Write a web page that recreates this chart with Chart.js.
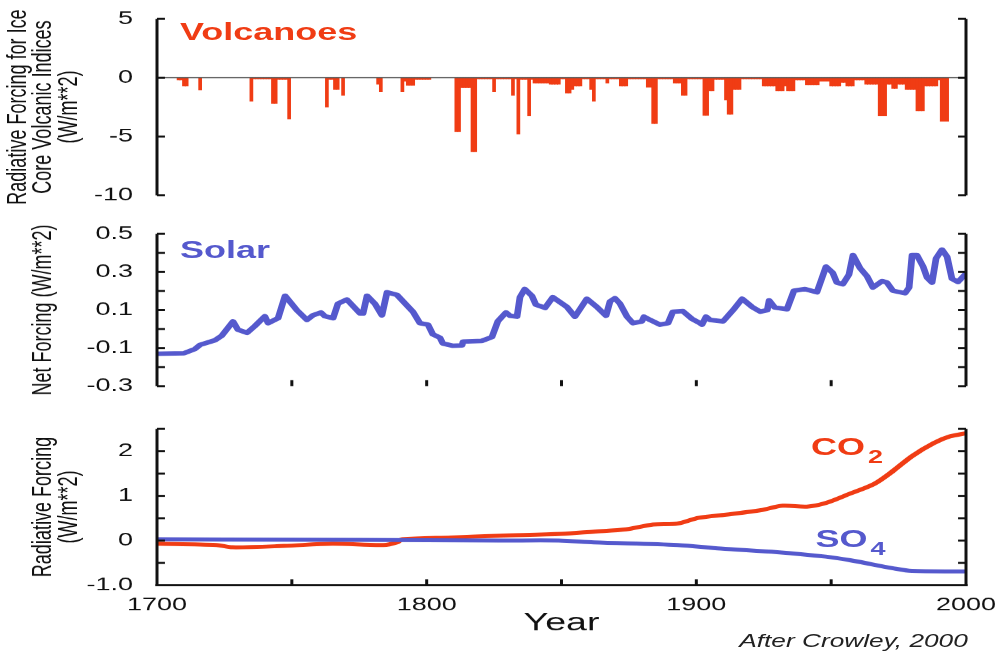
<!DOCTYPE html>
<html>
<head>
<meta charset="utf-8">
<script src="https://cdn.jsdelivr.net/npm/chart.js@4.4.1/dist/chart.umd.min.js"></script>
<style>
  html, body { margin: 0; padding: 0; background: #fff; width: 1000px; height: 653px; overflow: hidden; }
  #stage { position: absolute; left: 0; top: 0; width: 667px; height: 653px; transform: scaleX(1.49925); transform-origin: 0 0; }
  #stage canvas { position: absolute; left: 0; }
  .lbl { position: absolute; font-family: 'Liberation Sans', Arial, Helvetica, sans-serif; font-weight: bold; font-size: 24px; line-height: 1; white-space: nowrap; }
  .red { color: #f03c14; }
  .blue { color: #5559cd; }
  .sub { font-size: 18px; position: relative; top: 8px; margin-left: 2px; }
  .note { position: absolute; left: 0; width: 645.5px; text-align: right; top: 633px; font-family: 'Liberation Sans', Arial, sans-serif; font-style: italic; font-size: 17.5px; line-height: 1; color: #222; white-space: nowrap; }
</style>
</head>
<body>
<div id="stage">
  <canvas id="c1" width="667" height="215" style="top:0px"></canvas>
  <canvas id="c2" width="667" height="190" style="top:215px"></canvas>
  <canvas id="c3" width="667" height="243" style="top:410px"></canvas>
  <div class="lbl red" style="left:120px;top:19.7px">Volcanoes</div>
  <div class="lbl blue" style="left:120px;top:237.7px">Solar</div>
  <div class="lbl red" style="left:541px;top:434.7px">CO<span class="sub">2</span></div>
  <div class="lbl blue" style="left:544px;top:526.7px">SO<span class="sub">4</span></div>
  <div class="note">After Crowley, 2000</div>
</div>
<script>
// ---------------- DATA ----------------
// Volcanic forcing (W/m**2): year ranges with constant forcing
const volcFrom    = [1708,1710,1716,1735,1736,1743,1745,1749,1763,1764,1766,1769,1782,1783,1791,1792,1793,1796,1811,1813,1817,1819,1825,1826,1832,1833,1834,1835,1838,1839,1840,1846,1850,1852,1854,1855,1858,1861,1862,1863,1867,1868,1872,1875,1882,1884,1886,1892,1895,1897,1903,1905,1907,1911,1912,1914,1917,1925,1930,1933,1934,1937,1941,1946,1950,1954,1956,1959,1963,1968,1971,1973,1975,1978,1982,1985,1990,1991];
const volcTo      = [1709,1711,1716,1735,1742,1744,1748,1749,1763,1765,1767,1769,1782,1783,1791,1792,1795,1801,1812,1816,1818,1824,1825,1831,1832,1833,1834,1837,1838,1839,1845,1849,1851,1853,1854,1857,1860,1861,1862,1866,1867,1871,1874,1881,1883,1885,1891,1894,1896,1902,1904,1906,1910,1911,1913,1916,1924,1929,1932,1933,1936,1940,1945,1949,1953,1955,1958,1962,1967,1970,1972,1974,1977,1981,1984,1989,1990,1993];
const volcForcing = [-0.2,-0.7,-1.05,-2.0,-0.1,-2.2,-0.15,-3.5,-2.5,-0.15,-1.0,-1.5,-0.55,-1.2,-1.2,-0.3,-0.65,-0.15,-4.6,-0.85,-6.3,-0.1,-1.2,-0.1,-1.5,-0.1,-4.8,-0.15,-3.25,-0.15,-0.45,-0.55,-0.1,-1.3,-1.0,-0.7,-0.1,-1.0,-2.0,-0.1,-0.45,-0.1,-0.7,-0.1,-0.8,-3.9,-0.1,-0.45,-1.5,-0.1,-3.2,-1.1,-0.15,-1.9,-3.1,-1.0,-0.1,-0.7,-1.1,-0.7,-1.1,-0.2,-0.6,-0.3,-0.7,-0.4,-0.7,-0.2,-0.55,-3.25,-0.55,-0.9,-0.55,-1.0,-2.8,-0.7,-0.2,-3.7];

// Solar net forcing (W/m**2)
const solarYears  = [1700,1710,1714,1716,1721.5,1724,1728.2,1730,1733.4,1736.3,1740,1741.2,1744.9,1747.5,1751.9,1755.6,1757.8,1760.8,1762.3,1765.3,1767.1,1770.4,1775.3,1776.4,1777.9,1780.8,1783.4,1785.3,1789,1794.9,1797.5,1800.5,1802.3,1804.9,1806,1809.8,1813.1,1813.5,1820.5,1824.2,1826.4,1829.4,1830.9,1833.5,1834.6,1836.4,1839,1840.5,1843.9,1846.8,1852,1855,1859.4,1863.1,1866.5,1868,1869.8,1871.7,1874.3,1876.5,1879.8,1880.6,1882.8,1886.5,1889.5,1891.3,1895,1898.4,1901.3,1902.1,1903.6,1905.1,1909.9,1913.6,1917,1920.7,1923.7,1926.3,1927,1929.1,1933.6,1936.2,1940.3,1944.7,1946.2,1948.1,1950.6,1952.1,1954.3,1956.6,1958.1,1960.7,1963.3,1965.5,1968.9,1970.7,1972.9,1977.4,1978.9,1980,1981.8,1984.1,1985.6,1987.4,1988.9,1991.1,1993,1994.8,1997,2000];
const solarValues = [-0.13,-0.127,-0.105,-0.083,-0.059,-0.035,0.04,-0.003,-0.02,0.016,0.067,0.031,0.057,0.175,0.099,0.048,0.072,0.087,0.067,0.057,0.133,0.155,0.082,0.082,0.175,0.133,0.072,0.193,0.179,0.091,0.031,0.023,-0.028,-0.045,-0.076,-0.088,-0.086,-0.066,-0.062,-0.042,0.041,0.087,0.070,0.065,0.167,0.21,0.175,0.128,0.111,0.167,0.116,0.065,0.159,0.116,0.070,0.145,0.162,0.133,0.065,0.031,0.040,0.065,0.048,0.023,0.031,0.091,0.094,0.053,0.031,0.023,0.065,0.048,0.040,0.099,0.159,0.116,0.091,0.099,0.150,0.113,0.104,0.201,0.210,0.193,0.252,0.328,0.295,0.244,0.235,0.286,0.388,0.32,0.277,0.218,0.252,0.244,0.201,0.188,0.218,0.388,0.388,0.328,0.269,0.244,0.371,0.417,0.379,0.264,0.247,0.291];

// Greenhouse gas / aerosol radiative forcing (W/m**2)
const co2Years  = [1700,1722,1728,1747,1765,1784,1789,1791,1809,1827,1850,1862,1874,1884,1893,1901,1911,1924,1932,1941,1948,1957,1966,1973,1980,1988,1994,2000];
const co2Values = [-0.07,-0.10,-0.15,-0.12,-0.07,-0.10,-0.04,0.03,0.07,0.11,0.15,0.20,0.25,0.36,0.38,0.51,0.58,0.68,0.78,0.76,0.84,1.05,1.27,1.56,1.89,2.18,2.33,2.40];
const so4Years  = [1700,1750,1800,1827,1849,1862,1893,1909,1930,1948,1957,1973,1980,2000];
const so4Values = [0.03,0.02,0.01,0.0,0.0,-0.04,-0.10,-0.18,-0.26,-0.36,-0.44,-0.62,-0.68,-0.69];

// Tick labels
const yearTicks  = [1700,1800,1900,2000];
const volcTicks  = [5,0,-5,-10];
const solarTicks = [0.5,0.3,0.1,-0.1,-0.3];
const ghgTicks   = [2,1,0,-1];

// ---------------- STYLE / HELPERS ----------------
const FONT = "'Liberation Sans', Arial, Helvetica, sans-serif";
const RED = '#f03c14', BLUE = '#5559cd', INK = '#111';
const YAXIS_W = 104.67, PAD_R = 23;

const volcData = [];
for (let yr = 1700; yr <= 2000; yr++) volcData.push({x: yr, y: null});
volcFrom.forEach((a, i) => { for (let yr = a; yr <= volcTo[i]; yr++) volcData[yr - 1700].y = volcForcing[i]; });
const pts = (xs, ys) => xs.map((x, i) => ({x, y: ys[i]}));

const framePlugin = {
  id: 'frame',
  afterDatasetsDraw(chart, args, o) {
    const {ctx, chartArea: a, scales: {x, y}} = chart;
    const line = (x1, y1, x2, y2) => { ctx.beginPath(); ctx.moveTo(x1, y1); ctx.lineTo(x2, y2); ctx.stroke(); };
    ctx.save();
    ctx.lineCap = 'butt';
    if (o.zeroLine) { ctx.strokeStyle = '#555'; ctx.lineWidth = 1.3; const y0 = y.getPixelForValue(0); line(a.left, y0, a.right, y0); }
    ctx.strokeStyle = INK; ctx.lineWidth = 2;
    line(a.left, a.top, a.left, a.bottom + (o.bottomLine ? 1 : 0));
    line(a.right, a.top, a.right, a.bottom + (o.bottomLine ? 1 : 0));
    if (o.bottomLine) line(a.left - 1, a.bottom, a.right + 1, a.bottom);
    const n = Math.round((y.max - y.min) / o.yStep);
    for (let i = 0; i <= n; i++) {
      const py = y.getPixelForValue(y.min + i * o.yStep);
      line(a.left, py, a.left + 5.3, py);
      line(a.right - 5.3, py, a.right, py);
    }
    if (o.xStep) {
      const m = Math.round((x.max - x.min) / o.xStep);
      for (let i = 1; i < m; i++) {
        const px = x.getPixelForValue(x.min + i * o.xStep);
        line(px, a.bottom, px, a.bottom - 6);
      }
    }
    ctx.restore();
  }
};

function yScale(min, max, ticks, fmt, title, titlePad) {
  return {
    min, max,
    afterBuildTicks: s => { s.ticks = ticks.map(v => ({value: v})); },
    afterFit: s => { s.width = YAXIS_W; },
    grid: {display: false}, border: {display: false},
    ticks: {color: INK, font: {family: FONT, size: 18}, padding: 8, callback: fmt},
    title: {display: true, text: title, color: INK, font: {family: FONT, size: 18, lineHeight: 0.96}, padding: {top: titlePad, bottom: 0}}
  };
}
const hiddenX = {type: 'linear', min: 1700, max: 2000, offset: false, display: false};
function base(padTop, padBottom, frame) {
  return {
    responsive: false, animation: false, devicePixelRatio: 1.5, events: [],
    layout: {padding: {left: 0, right: PAD_R, top: padTop, bottom: padBottom}},
    plugins: {legend: {display: false}, tooltip: {enabled: false}, frame}
  };
}

// Panel 1: volcanoes
new Chart(document.getElementById('c1'), {
  type: 'bar',
  data: {datasets: [{data: volcData, backgroundColor: RED, borderWidth: 0, barPercentage: 1, categoryPercentage: 1}]},
  options: Object.assign(base(15, 20, {zeroLine: true, yStep: 5}), {
    scales: {
      x: hiddenX,
      y: yScale(-10, 5, volcTicks, v => String(v), ['Radiative Forcing for Ice', 'Core Volcanic Indices', '(W/m**2)'], 3.4)
    }
  }),
  plugins: [framePlugin]
});

// Panel 2: solar
new Chart(document.getElementById('c2'), {
  type: 'line',
  data: {datasets: [{data: pts(solarYears, solarValues), borderColor: BLUE, borderWidth: 4.5, pointRadius: 0, tension: 0, borderJoinStyle: 'round', borderCapStyle: 'round'}]},
  options: Object.assign(base(18, 15, {yStep: 0.1, xStep: 50}), {
    scales: {
      x: hiddenX,
      y: yScale(-0.3, 0.5, solarTicks, v => v.toFixed(1), 'Net Forcing (W/m**2)', 20.4)
    }
  }),
  plugins: [framePlugin]
});

// Panel 3: CO2 and SO4
new Chart(document.getElementById('c3'), {
  type: 'line',
  data: {datasets: [
    {data: pts(so4Years, so4Values), borderColor: BLUE, borderWidth: 4, pointRadius: 0, tension: 0.3, borderCapStyle: 'round'},
    {data: pts(co2Years, co2Values), borderColor: RED, borderWidth: 4, pointRadius: 0, tension: 0.3, borderCapStyle: 'round'}
  ]},
  options: Object.assign(base(14, 0, {yStep: 0.5, xStep: 50, bottomLine: true}), {
    scales: {
      x: {
        type: 'linear', min: 1700, max: 2000, offset: false,
        afterBuildTicks: s => { s.ticks = yearTicks.map(v => ({value: v})); },
        afterFit: s => { s.height = 68; },
        grid: {display: false}, border: {display: false},
        ticks: {color: INK, font: {family: FONT, size: 18}, padding: 1, maxRotation: 0, autoSkip: false, callback: v => String(v)},
        title: {display: true, text: 'Year', color: INK, font: {family: FONT, size: 25, lineHeight: 1.2}, padding: {top: 0, bottom: 14.7}}
      },
      y: yScale(-1, 2.5, ghgTicks, v => (v === -1 ? '-1.0' : String(v)), ['Radiative Forcing', '(W/m**2)'], 20.4)
    }
  }),
  plugins: [framePlugin]
});
</script>
</body>
</html>
